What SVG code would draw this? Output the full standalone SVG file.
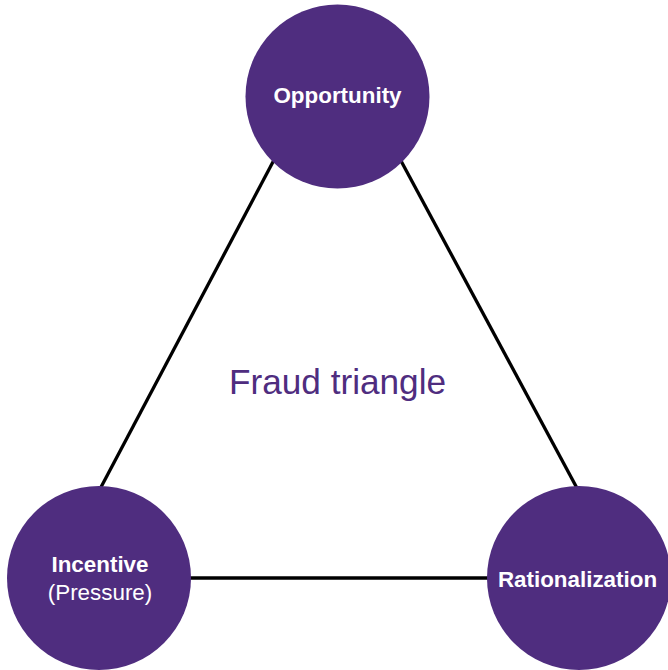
<svg xmlns="http://www.w3.org/2000/svg" width="668" height="670" viewBox="0 0 668 670">
<style>
.node{fill:#4F2D7F}
.lbl{font-family:"Liberation Sans",Arial,sans-serif;font-size:22.4px;fill:#FFFFFF;text-anchor:middle}
.b{font-weight:bold}
.conn{stroke:#000000;stroke-width:3.3;fill:none}
.title{font-family:"Liberation Sans",Arial,sans-serif;font-size:35.2px;fill:#4F2D7F;text-anchor:middle}
</style>
<rect width="668" height="670" fill="#FFFFFF"/>
<g id="connectors">
<line class="conn" x1="274.5" y1="159" x2="99.5" y2="490"/>
<line class="conn" x1="400" y1="159" x2="578" y2="490"/>
<line class="conn" x1="187" y1="578" x2="490" y2="578"/>
</g>
<g id="opportunity">
<circle class="node" cx="337.5" cy="96.5" r="92"/>
<text class="lbl b" x="337.5" y="103">Opportunity</text>
</g>
<g id="incentive">
<circle class="node" cx="99" cy="578" r="92"/>
<text class="lbl b" x="100" y="572">Incentive</text>
<text class="lbl" x="100" y="599.5">(Pressure)</text>
</g>
<g id="rationalization">
<circle class="node" cx="579" cy="578" r="92"/>
<text class="lbl b" x="577.5" y="586.5">Rationalization</text>
</g>
<text id="title" class="title" x="337.5" y="393.5">Fraud triangle</text>
</svg>
